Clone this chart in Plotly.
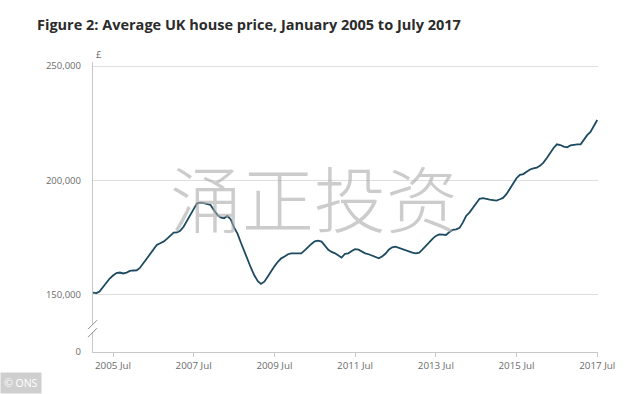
import pandas as pd
import plotly.graph_objects as go

# Monthly average UK house price (GBP thousands), Jan 2005 .. Jul 2017
months = pd.date_range("2005-01-01", "2017-07-01", freq="MS")
price_k = [
    151.0, 150.8, 151.5, 153.5, 155.5, 157.2, 158.5, 159.6, 159.8, 159.4, 159.8, 160.5,
    160.7, 160.8, 161.8, 163.8, 165.8, 167.5, 169.8, 171.8, 172.6, 173.3, 174.5, 175.8,
    177.2, 177.3, 178.0, 179.8, 182.5, 185.0, 187.5, 190.0, 190.3, 190.1, 189.8, 189.3,
    187.0, 185.0, 183.9, 183.5, 184.5, 183.0, 179.5, 176.8, 172.8, 169.0, 165.0, 161.8,
    158.5, 156.0, 154.8, 155.8, 158.0, 160.5, 162.5, 164.5, 166.0, 166.8, 167.8, 168.2,
    168.3, 168.4, 168.2, 169.5, 171.0, 172.3, 173.4, 173.7, 173.3, 171.3, 169.7, 168.8,
    168.2, 167.2, 166.3, 168.0, 168.2, 169.2, 170.0, 169.8, 168.8, 168.2, 167.8, 167.3,
    166.5, 166.0, 166.8, 168.0, 169.8, 170.8, 171.1, 170.6, 169.8, 169.3, 168.9, 168.5,
    168.2, 168.5, 169.8, 171.5, 173.0, 174.5, 175.8, 176.5, 176.4, 176.2, 177.5, 178.4,
    178.7, 179.3, 181.5, 184.5, 186.0, 188.0, 189.8, 192.0, 192.3, 191.8, 191.6, 191.4,
    191.2, 191.8, 192.4, 194.0, 196.2, 198.8, 201.0, 202.5, 202.8, 203.8, 204.8, 205.3,
    205.6, 206.5, 207.8, 209.8, 212.0, 214.2, 215.8, 215.5, 214.8, 214.5, 215.3, 215.6,
    215.8, 215.8, 217.8, 219.8, 221.2, 223.8, 226.4,
]
prices = [v * 1000 for v in price_k]

x_tick_dates = ["2005-07-01", "2007-07-01", "2009-07-01", "2011-07-01",
                "2013-07-01", "2015-07-01", "2017-07-01"]
x_tick_labels = ["2005 Jul", "2007 Jul", "2009 Jul", "2011 Jul",
                 "2013 Jul", "2015 Jul", "2017 Jul"]

# broken axis: bottom of the axis is labelled "0"
axis_floor = 125100
y_tick_vals = [axis_floor, 150000, 200000, 250000]
y_tick_labels = ["0", "150,000", "200,000", "250,000"]

fig = go.Figure()
fig.add_trace(go.Scatter(
    x=months, y=prices, mode="lines",
    line=dict(color="#1c4a60", width=1.8),
    hoverinfo="skip", showlegend=False,
))

grey = "#6b6b6b"
fig.update_layout(
    width=634, height=394,
    margin=dict(l=93, r=36, t=62, b=42),
    paper_bgcolor="white", plot_bgcolor="white",
    font=dict(family="Open Sans", color=grey, size=10),
    title=dict(
        text="<b>Figure 2: Average UK house price, January 2005 to July 2017</b>",
        x=37 / 634, xanchor="left", y=1 - 25 / 394, yanchor="middle",
        font=dict(family="Open Sans", size=14.5, color="#2b2b2b"),
    ),
    xaxis=dict(
        range=["2005-01-01", "2017-07-08"],
        tickvals=x_tick_dates, ticktext=x_tick_labels,
        ticks="outside", ticklen=4, tickcolor="#c8c8c8",
        showgrid=False, zeroline=False,
        showline=True, linecolor="#c8c8c8", linewidth=1.2,
        tickfont=dict(size=9.8, color=grey),
    ),
    yaxis=dict(
        range=[axis_floor, 251750],
        tickvals=y_tick_vals, ticktext=y_tick_labels,
        ticks="outside", ticklen=9, tickcolor="rgba(0,0,0,0)",
        showgrid=True, gridcolor="#dedede", gridwidth=1,
        zeroline=False,
        showline=True, linecolor="#c8c8c8", linewidth=1.2,
        tickfont=dict(size=9.5, color=grey),
    ),
)

# axis break marks on the y axis
fig.add_shape(type="rect", xref="paper", yref="y",
              xsizemode="pixel", xanchor=0, x0=-3, x1=3,
              ysizemode="pixel", yanchor=135500, y0=-4, y1=4,
              fillcolor="white", line=dict(width=0), layer="above")
for off in (-4, 4):
    fig.add_shape(type="line", xref="paper", yref="y",
                  xsizemode="pixel", xanchor=0, x0=-5, x1=4,
                  ysizemode="pixel", yanchor=135500, y0=off - 5, y1=off + 4,
                  line=dict(color="#8a8a8a", width=1), layer="above")

# currency unit
fig.add_annotation(text="£", xref="paper", yref="paper", x=0, y=1,
                   xanchor="left", yanchor="bottom", xshift=1, yshift=-1,
                   showarrow=False, font=dict(size=9.5, color=grey))

# watermark
fig.add_annotation(text="涌正投资", xref="paper", yref="paper",
                   x=(314 - 93) / 505, y=(352 - 195) / 290,
                   xanchor="center", yanchor="middle", showarrow=False,
                   font=dict(family="Noto Sans CJK SC", size=72, color="rgba(170,170,170,0.6)",
                             weight=300))

# source badge
fig.add_annotation(text="© ONS", xref="paper", yref="paper",
                   x=-93 / 505, y=-(394 - 352) / 290,
                   xanchor="left", yanchor="bottom", showarrow=False,
                   bgcolor="#cfcfcf", borderpad=3,
                   font=dict(size=10.5, color="white"))

fig.write_html("out.html", config={"displayModeBar": False},
               post_script="document.body.style.margin='0';")
